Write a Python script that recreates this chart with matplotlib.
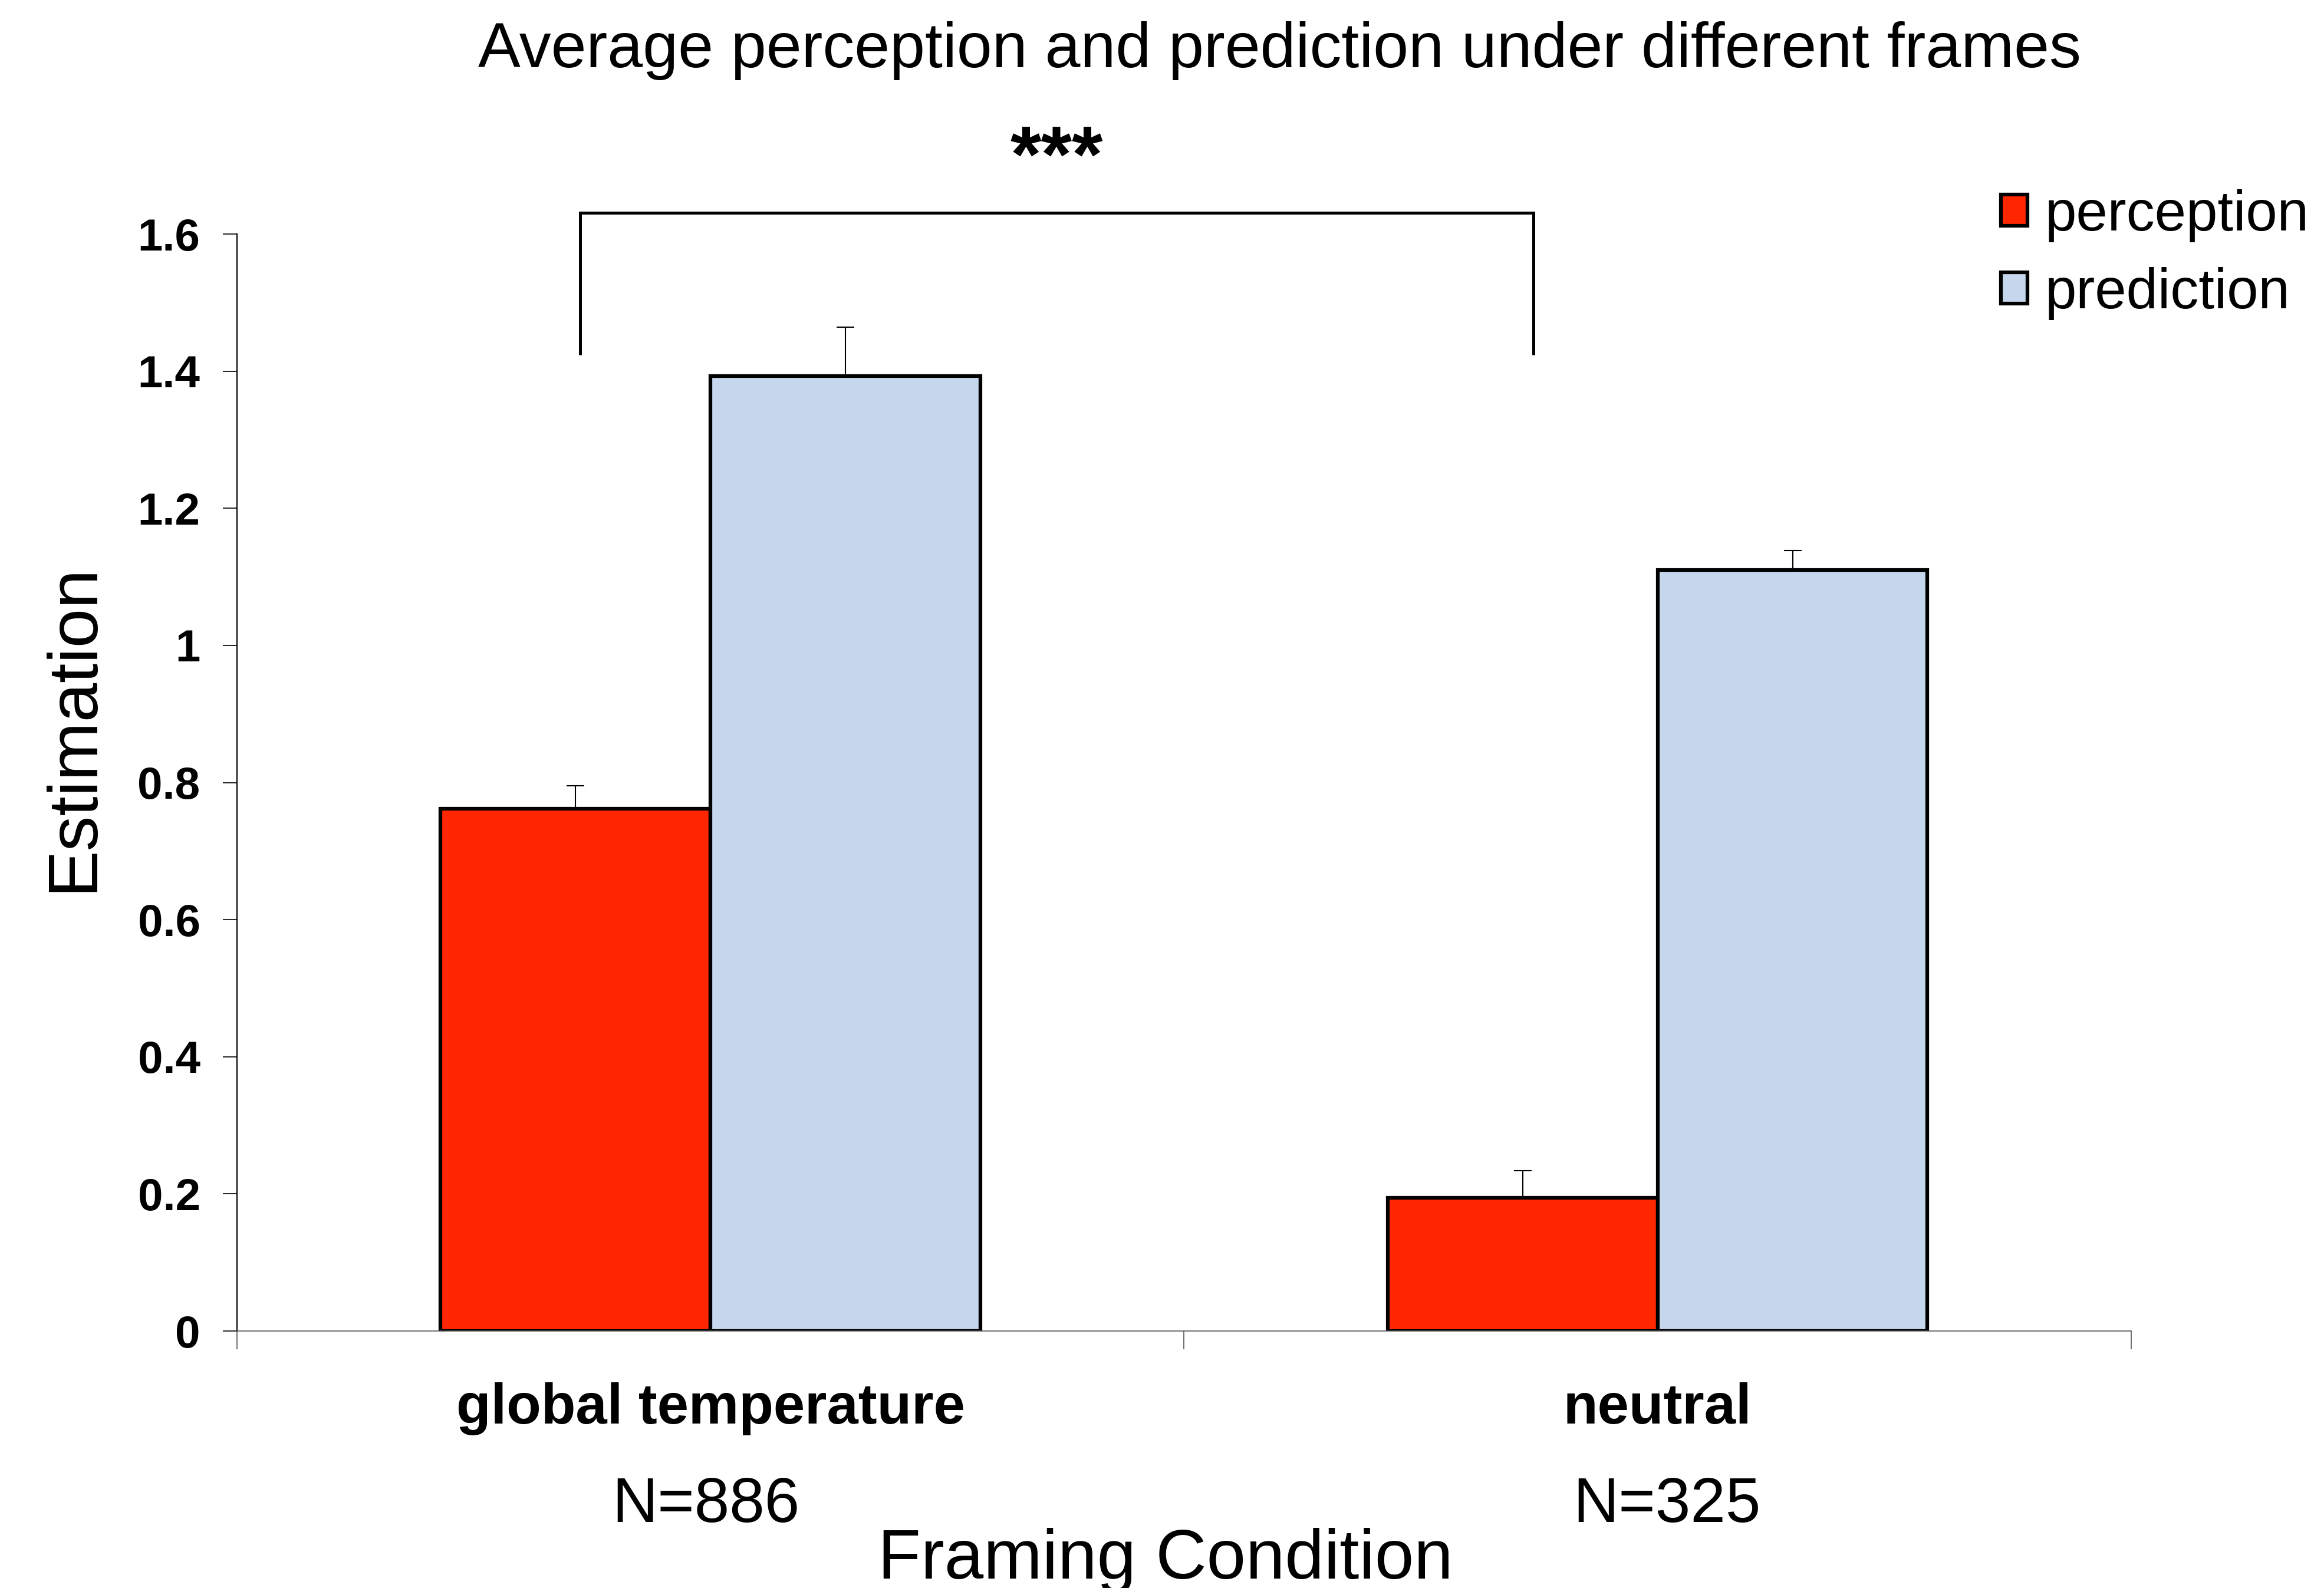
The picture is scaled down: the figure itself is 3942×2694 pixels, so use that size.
import matplotlib
matplotlib.use("Agg")
import matplotlib.pyplot as plt
import numpy as np

plt.rcParams['font.family'] = ['Liberation Sans', 'DejaVu Sans']

# data
conditions = ['global temperature', 'neutral']
sample_sizes = ['N=886', 'N=325']
perception = [0.762, 0.194]
perception_err = [0.033, 0.040]
prediction = [1.393, 1.110]
prediction_err = [0.071, 0.028]
y_ticks = [0, 0.2, 0.4, 0.6, 0.8, 1, 1.2, 1.4, 1.6]
y_tick_labels = ['0', '0.2', '0.4', '0.6', '0.8', '1', '1.2', '1.4', '1.6']
# significance bracket (x ends in category units, y in data units)
bracket_x = [-0.138, 0.869]
bracket_y = [1.424, 1.631]

red = '#FF2600'
blue = '#C5D7EC'

fig = plt.figure(figsize=(39.42, 26.94), dpi=100)
ax = fig.add_axes([0.102, 0.1618, 0.815, 0.6908])

x = np.arange(len(conditions))
w = 0.285

ax.bar(x - w / 2, perception, w, color=red, edgecolor='black', linewidth=4.5,
       label='perception', zorder=2)
ax.bar(x + w / 2, prediction, w, color=blue, edgecolor='black', linewidth=4.5,
       label='prediction', zorder=2)
ax.errorbar(x - w / 2, perception, yerr=[np.zeros(2), perception_err], fmt='none',
            ecolor='black', elinewidth=1.5, capsize=11, capthick=1.5, zorder=1)
ax.errorbar(x + w / 2, prediction, yerr=[np.zeros(2), prediction_err], fmt='none',
            ecolor='black', elinewidth=1.5, capsize=11, capthick=1.5, zorder=1)

ax.set_xlim(-0.5, 1.5)
ax.set_ylim(0, 1.6)

# axes styling
for s in ['top', 'right']:
    ax.spines[s].set_visible(False)
ax.spines['left'].set_linewidth(1.5)
ax.spines['bottom'].set_linewidth(1.2)
ax.spines['bottom'].set_color('#555555')

ax.set_yticks(y_ticks)
ax.set_yticklabels(y_tick_labels, fontsize=55, fontweight='bold')
ax.tick_params(axis='y', direction='out', length=17, width=1.2, pad=28)

ax.set_xticks(x)
ax.set_xticklabels([])
ax.tick_params(axis='x', which='major', length=0)
ax.set_xticks([-0.5, 0.5, 1.5], minor=True)
ax.tick_params(axis='x', which='minor', direction='out', length=22, width=1.2,
               color='#555555')

tr = ax.get_xaxis_transform()
n_shift = [-0.005, 0.01]
for i in range(len(conditions)):
    ax.text(x[i], -0.071, conditions[i], transform=tr, ha='center', va='center',
            fontsize=69, fontweight='bold')
    ax.text(x[i] + n_shift[i], -0.159, sample_sizes[i], transform=tr, ha='center',
            va='center', fontsize=77)

ax.text(0.49, -0.209, 'Framing Condition', transform=ax.transAxes, ha='center',
        va='center', fontsize=86)
ax.text(-0.0859, 0.55, 'Estimation', transform=ax.transAxes, ha='center',
        va='center', rotation=90, fontsize=86)

# significance bracket
bx = [bracket_x[0], bracket_x[0], bracket_x[1], bracket_x[1]]
by = [bracket_y[0], bracket_y[1], bracket_y[1], bracket_y[0]]
ax.plot(bx, by, color='black', linewidth=3.6, clip_on=False, solid_capstyle='butt',
        solid_joinstyle='miter')
ax.text(np.mean(bracket_x), 1.707, '***', ha='center', va='center', fontsize=97,
        fontweight='bold')

fig.text(0.5505, 0.968, 'Average perception and prediction under different frames',
         ha='center', va='center', fontsize=77.5)

ax.legend(loc='upper left', bbox_to_anchor=(0.861, 0.881),
          bbox_transform=fig.transFigure, frameon=False, fontsize=69,
          handlelength=0.47, handleheight=0.47, handletextpad=0.31,
          labelspacing=0.44, borderaxespad=0, borderpad=0)

fig.savefig('out.png', dpi=100)
